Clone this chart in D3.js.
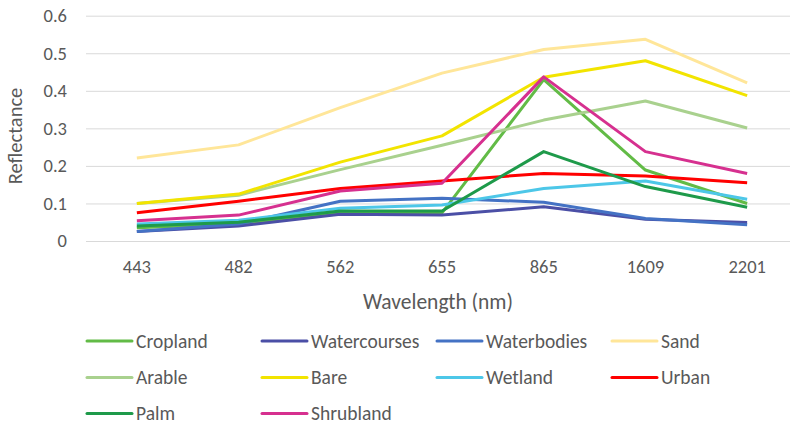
<!DOCTYPE html>
<html>
<head>
<meta charset="utf-8">
<script src="https://cdn.jsdelivr.net/npm/d3@7/dist/d3.min.js"></script>
<style>
  html, body { margin: 0; padding: 0; background: #fff; }
  svg { display: block; }
  text { font-family: Carlito, Lato, "Open Sans", sans-serif; fill: #595959; }
</style>
</head>
<body>
<svg id="chart" width="790" height="425"></svg>
<script>
// Wavelength bands (nm) shown as categories on the x axis
const wavelengths = ["443", "482", "562", "655", "865", "1609", "2201"];

// Mean reflectance of each land-cover class per band
const cropland     = [0.035, 0.045, 0.075, 0.075, 0.430, 0.189, 0.100];
const watercourses = [0.025, 0.040, 0.071, 0.069, 0.091, 0.058, 0.049];
const waterbodies  = [0.025, 0.045, 0.106, 0.114, 0.103, 0.060, 0.043];
const sand         = [0.221, 0.256, 0.355, 0.447, 0.510, 0.537, 0.421];
const arable       = [0.100, 0.122, 0.190, 0.255, 0.322, 0.373, 0.301];
const bare         = [0.100, 0.125, 0.210, 0.280, 0.436, 0.480, 0.387];
const wetland      = [0.045, 0.055, 0.087, 0.096, 0.140, 0.160, 0.111];
const urban        = [0.075, 0.106, 0.140, 0.160, 0.180, 0.173, 0.155];
const palm         = [0.040, 0.050, 0.080, 0.080, 0.238, 0.145, 0.090];
const shrubland    = [0.054, 0.069, 0.133, 0.154, 0.437, 0.238, 0.180];

const classNames = ["Cropland", "Watercourses", "Waterbodies", "Sand", "Arable",
                    "Bare", "Wetland", "Urban", "Palm", "Shrubland"];
const classColors = ["#62BB46", "#4B4FA6", "#4472C4", "#FFE699", "#A9D18E",
                     "#F2E400", "#4DC7E8", "#FF0000", "#1E9A4A", "#D6308F"];
const classValues = [cropland, watercourses, waterbodies, sand, arable,
                     bare, wetland, urban, palm, shrubland];

const yTicks = [0, 0.1, 0.2, 0.3, 0.4, 0.5, 0.6];

const series = classNames.map((name, i) => ({
  name, color: classColors[i], values: classValues[i]
}));

const svg = d3.select("#chart");
const plot = { left: 86, right: 798, top: 15.7, bottom: 241 };

const x = d3.scaleBand().domain(wavelengths).range([plot.left, plot.right]);
const y = d3.scaleLinear().domain([0, 0.6]).range([plot.bottom, plot.top]);

// Horizontal gridlines with value labels
const yAxis = d3.axisLeft(y).tickValues(yTicks).tickSize(-(plot.right - plot.left))
  .tickPadding(19).tickFormat(d => d === 0 ? "0" : d3.format(".1f")(d));
const gy = svg.append("g").attr("transform", `translate(${plot.left},0)`).call(yAxis);
gy.select(".domain").remove();
gy.selectAll(".tick line").attr("stroke", "#D9D9D9").attr("stroke-width", 1);
gy.selectAll(".tick text").attr("font-size", 18.5).attr("fill", "#595959");

// Category labels along the bottom
const xAxis = d3.axisBottom(x).tickSize(0).tickPadding(19);
const gx = svg.append("g").attr("transform", `translate(0,${plot.bottom})`).call(xAxis);
gx.select(".domain").remove();
gx.selectAll(".tick text").attr("font-size", 18.5).attr("fill", "#595959");

// Axis titles
svg.append("text").attr("x", 438).attr("y", 309).attr("text-anchor", "middle")
  .attr("font-size", 21.5).text("Wavelength (nm)");
svg.append("text").attr("transform", "translate(22,136) rotate(-90)")
  .attr("text-anchor", "middle").attr("font-size", 20.5).text("Reflectance");

// Spectral profile lines
const line = d3.line()
  .x((d, i) => x(wavelengths[i]) + x.bandwidth() / 2)
  .y(d => y(d));
svg.append("g").selectAll("path").data(series).join("path")
  .attr("d", d => line(d.values))
  .attr("fill", "none")
  .attr("stroke", d => d.color)
  .attr("stroke-width", 3)
  .attr("stroke-linejoin", "round");

// Legend: four columns, three rows
const legend = svg.append("g");
const colX = [87, 262, 437, 612];
const rowY = [341, 377.5, 413.5];
series.forEach((s, i) => {
  const cx = colX[i % 4], cy = rowY[Math.floor(i / 4)];
  legend.append("line").attr("x1", cx).attr("x2", cx + 45)
    .attr("y1", cy).attr("y2", cy)
    .attr("stroke", s.color).attr("stroke-width", 3).attr("stroke-linecap", "round");
  legend.append("text").attr("x", cx + 49).attr("y", cy + 6.5)
    .attr("font-size", 19.5).text(s.name);
});
</script>
</body>
</html>
